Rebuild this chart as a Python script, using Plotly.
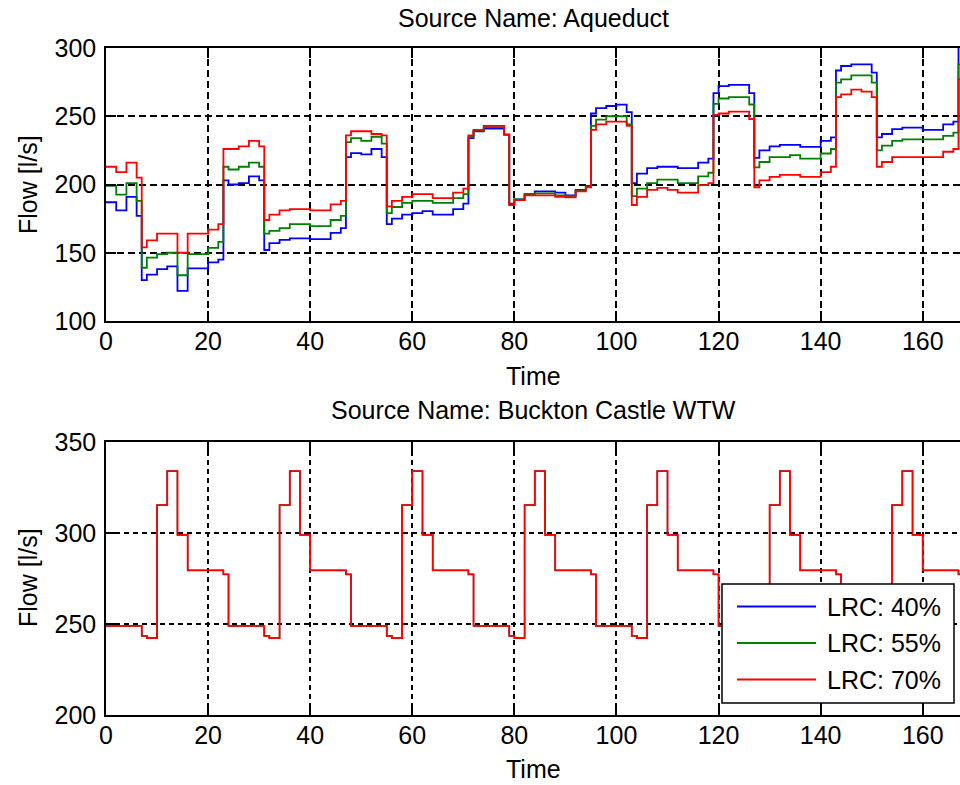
import plotly.graph_objects as go

# ---------------------------------------------------------------- data
# hourly flows over one week (hour 0 .. 167), one row per day
hours = list(range(168))

aqueduct_lrc40 = [
    187, 187, 181, 181, 191, 191, 177, 130, 134, 134, 138, 138, 140, 140, 122, 122, 138.5, 138.5, 138.5, 138.5, 143, 143, 145, 203,
    200, 200, 201, 201, 206, 206, 203, 152, 157, 157, 159.5, 159.5, 160.5, 160.5, 160.5, 160.5, 160, 160, 160, 160, 164.5, 164.5, 168, 220,
    223, 223, 222, 222, 226, 226, 220, 171, 175, 175, 178, 178, 179, 179, 180.5, 180.5, 178, 178, 178, 178, 182, 182, 186, 234,
    239, 239, 241, 241, 241, 241, 236.5, 186, 189, 189, 193, 193, 195, 195, 195, 195, 194, 194, 192, 192, 196, 196, 199, 252,
    256, 256, 257.5, 257.5, 258.5, 258.5, 253, 201, 208, 208, 212, 212, 213, 213, 213, 213, 212, 212, 212, 212, 216, 216, 219, 267,
    272, 272, 273, 273, 273, 273, 267, 219.5, 225, 225, 228, 228, 229, 229, 229, 229, 227.5, 227.5, 227.5, 227.5, 232, 232, 234.5, 283.5,
    286.8, 286.8, 288, 288, 288, 288, 282, 234.5, 237, 237, 240.5, 240.5, 241.7, 241.7, 241.7, 241.7, 240, 240, 240, 240, 244, 244, 246, 305,
]

aqueduct_lrc55 = [
    199, 199, 192.6, 192.6, 201, 201, 188, 139, 146.5, 146.5, 149, 149, 150, 150, 133.5, 133.5, 149, 149, 149, 149, 153.5, 153.5, 158, 213,
    211, 211, 213, 213, 216, 216, 213, 164, 166, 166, 168, 168, 171, 171, 171, 171, 169.5, 169.5, 169.5, 169.5, 174, 174, 177, 231,
    234, 234, 232, 232, 235, 235, 230, 179, 183.5, 183.5, 186.5, 186.5, 188, 188, 188, 188, 186.5, 186.5, 186.5, 186.5, 190, 190, 193, 235,
    239.5, 239.5, 242, 242, 242, 242, 236.5, 185.5, 189, 189, 193, 193, 193.5, 193.5, 193.5, 193.5, 192, 192, 191.5, 191.5, 195.5, 195.5, 198.5, 243,
    247.5, 247.5, 250, 250, 250, 250, 244, 191.5, 197, 197, 201, 201, 203.5, 203.5, 203.5, 203.5, 201, 201, 201, 201, 206, 206, 208.6, 259,
    263, 263, 264, 264, 264, 264, 258.6, 212.5, 216.5, 216.5, 220, 220, 220, 220, 221.5, 221.5, 219, 219, 219, 219, 222.7, 222.7, 226, 274.6,
    277, 277, 280, 280, 280, 280, 274.6, 225, 228.5, 228.5, 232, 232, 233, 233, 233, 233, 233, 233, 233, 233, 235.6, 235.6, 238, 288,
]

aqueduct_lrc70 = [
    213, 213, 209, 209, 216, 216, 205, 154, 159, 159, 164, 164, 164, 164, 150, 150, 164, 164, 164, 164, 167, 167, 171, 226,
    226, 226, 228, 228, 232, 232, 228, 174, 178, 178, 181, 181, 182, 182, 182, 182, 181, 181, 181, 181, 185.5, 185.5, 188, 236,
    239, 239, 239, 239, 237, 237, 236, 184, 188, 188, 191, 191, 193, 193, 193, 193, 190, 190, 190, 190, 194, 194, 197, 236,
    240, 240, 243, 243, 243, 243, 236.5, 185, 188.5, 188.5, 192, 192, 192, 192, 192, 192, 191, 191, 190.5, 190.5, 195, 195, 198, 240,
    244, 244, 246, 246, 246, 246, 243, 185, 191, 191, 196, 196, 197.5, 197.5, 196, 196, 194, 194, 194, 194, 199.5, 199.5, 201, 251,
    252, 252, 253.4, 253.4, 253.4, 253.4, 248, 198, 203, 203, 205.6, 205.6, 207, 207, 207, 207, 205.6, 205.6, 205.6, 205.6, 209, 209, 213, 264,
    266, 266, 269.5, 269.5, 268, 268, 264, 213, 216.5, 216.5, 220, 220, 220, 220, 220, 220, 220, 220, 220, 220, 224, 224, 226, 277,
]

# Buckton Castle WTW output is identical for all three LRC settings
buckton = [
    249, 249, 249, 249, 249, 249, 249, 243.5, 242.3, 242.3, 315.3, 315.3, 334, 334, 299, 299, 279.5, 279.5, 279.5, 279.5, 279.5, 279.5, 279.5, 277.3,
    249, 249, 249, 249, 249, 249, 249, 243.5, 242.3, 242.3, 315.3, 315.3, 334, 334, 299, 299, 279.5, 279.5, 279.5, 279.5, 279.5, 279.5, 279.5, 277.3,
    249, 249, 249, 249, 249, 249, 249, 243.5, 242.3, 242.3, 315.3, 315.3, 334, 334, 299, 299, 279.5, 279.5, 279.5, 279.5, 279.5, 279.5, 279.5, 277.3,
    249, 249, 249, 249, 249, 249, 249, 243.5, 242.3, 242.3, 315.3, 315.3, 334, 334, 299, 299, 279.5, 279.5, 279.5, 279.5, 279.5, 279.5, 279.5, 277.3,
    249, 249, 249, 249, 249, 249, 249, 243.5, 242.3, 242.3, 315.3, 315.3, 334, 334, 299, 299, 279.5, 279.5, 279.5, 279.5, 279.5, 279.5, 279.5, 277.3,
    249, 249, 249, 249, 249, 249, 249, 243.5, 242.3, 242.3, 315.3, 315.3, 334, 334, 299, 299, 279.5, 279.5, 279.5, 279.5, 279.5, 279.5, 279.5, 277.3,
    249, 249, 249, 249, 249, 249, 249, 243.5, 242.3, 242.3, 315.3, 315.3, 334, 334, 299, 299, 279.5, 279.5, 279.5, 279.5, 279.5, 279.5, 279.5, 277.3,
]

series_names = ["LRC: 40%", "LRC: 55%", "LRC: 70%"]
series_colors = ["#0000ff", "#008000", "#ff0000"]
x_ticks = [0, 20, 40, 60, 80, 100, 120, 140, 160]

# ---------------------------------------------------------------- layout helpers
W, H = 960, 785
ML, MR, MT, MB = 106, 0, 48, 70
PW, PH = W - ML - MR, H - MT - MB
FONT = "Liberation Sans, Arial, sans-serif"
FS = 25


def px(x):
    return (x - ML) / PW


def py(y):
    return (H - MB - y) / PH


def stairs(vals):
    # close the last hour so the final step is drawn as a full stair
    return hours + [hours[-1] + 1], list(vals) + [vals[-1]]


fig = go.Figure()

for vals, name, col in zip([aqueduct_lrc40, aqueduct_lrc55, aqueduct_lrc70], series_names, series_colors):
    xs, ys = stairs(vals)
    fig.add_trace(go.Scatter(x=xs, y=ys, mode="lines", name=name, line=dict(color=col, width=1.8, shape="hv"),
                             xaxis="x", yaxis="y", showlegend=False))

# the three settings coincide here; the last one drawn (70%) sits on top
for name, col, lw in zip(series_names, series_colors, [1.2, 1.2, 1.8]):
    xs, ys = stairs(buckton)
    fig.add_trace(go.Scatter(x=xs, y=ys, mode="lines", name=name, line=dict(color=col, width=lw, shape="hv"),
                             xaxis="x2", yaxis="y2", showlegend=False))

top_dom = [py(321), 1.0]
bot_dom = [0.0, py(442)]

xcommon = dict(range=[0, 167.3], tickvals=x_ticks, showgrid=True, gridcolor="black", gridwidth=1.5,
               zeroline=False, showline=True, linecolor="black", linewidth=1.5, mirror="ticks",
               ticks="inside", ticklen=10, tickwidth=1.5, tickcolor="black",
               tickfont=dict(family=FONT, size=FS, color="black"), ticklabelstandoff=-3)
ycommon = dict(dtick=50, showgrid=True, gridcolor="black", gridwidth=1.5, zeroline=False,
               showline=True, linecolor="black", linewidth=1.5, mirror=False,
               ticks="inside", ticklen=10, tickwidth=1.5, tickcolor="black",
               tickfont=dict(family=FONT, size=FS, color="black"), ticklabelstandoff=3)

fig.update_layout(
    width=W, height=H,
    margin=dict(l=ML, r=MR, t=MT, b=MB),
    paper_bgcolor="white", plot_bgcolor="white",
    font=dict(family=FONT, size=FS, color="black"),
    xaxis=dict(domain=[0, 1], anchor="y", griddash="7px,4px", **xcommon),
    yaxis=dict(domain=top_dom, anchor="x", range=[100, 300], griddash="7px,4px", **ycommon),
    xaxis2=dict(domain=[0, 1], anchor="y2", griddash="5px,4px", **xcommon),
    yaxis2=dict(domain=bot_dom, anchor="x2", range=[200, 350], griddash="5px,4px", **ycommon),
)

# titles and axis labels
texts = [
    ("Source Name: Aqueduct", 533, 18, 0),
    ("Time", 533, 376, 0),
    ("Flow [l/s]", 28, 185, -90),
    ("Source Name: Buckton Castle WTW", 533, 410, 0),
    ("Time", 533, 769, 0),
    ("Flow [l/s]", 28, 578, -90),
]
for txt, x, y, ang in texts:
    fig.add_annotation(text=txt, x=px(x), y=py(y), xref="paper", yref="paper", showarrow=False,
                       xanchor="center", yanchor="middle", textangle=ang,
                       font=dict(family=FONT, size=FS, color="black"))

# legend box in the lower subplot
fig.add_shape(type="rect", xref="paper", yref="paper", x0=px(722), x1=px(954), y0=py(703), y1=py(584),
              line=dict(color="black", width=1.5), fillcolor="white", layer="above")
for name, col, yy in zip(series_names, series_colors, [606.5, 643, 679.5]):
    fig.add_shape(type="line", xref="paper", yref="paper", x0=px(737), x1=px(816), y0=py(yy), y1=py(yy),
                  line=dict(color=col, width=1.8), layer="above")
    fig.add_annotation(text=name, x=px(825), y=py(yy), xref="paper", yref="paper", showarrow=False,
                       xanchor="left", yanchor="middle", font=dict(family=FONT, size=FS, color="black"))

fig.write_html("out.html")
